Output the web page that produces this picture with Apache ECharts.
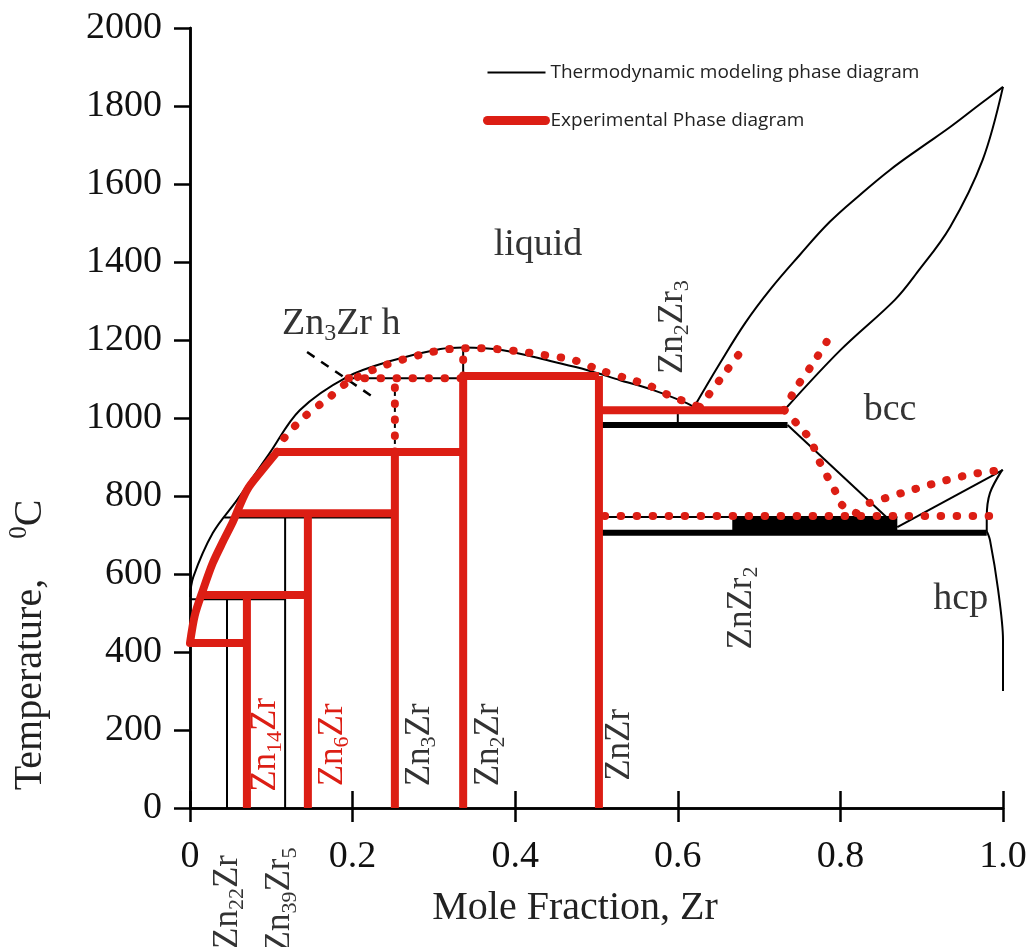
<!DOCTYPE html>
<html>
<head>
<meta charset="utf-8">
<script src="https://cdn.jsdelivr.net/npm/echarts@6/dist/echarts.min.js"></script>
<style>
  html, body { margin: 0; padding: 0; background: #fff; }
  #chart { width: 1030px; height: 947px; }
</style>
</head>
<body>
<div id="chart"></div>
<script>
  // axis ticks
  var xTickLabels = ['0', '0.2', '0.4', '0.6', '0.8', '1.0'];

  // thermodynamic model (black)
  var calcLiquidus = [[0, 541], [0.004, 592], [0.028, 705], [0.058, 790], [0.098, 910], [0.135, 1020], [0.193, 1105],
    [0.25, 1148], [0.308, 1177], [0.336, 1181], [0.385, 1174], [0.447, 1144], [0.488, 1123], [0.529, 1097],
    [0.569, 1072], [0.611, 1038], [0.622, 1025]];
  var calcLiquidusBcc = [[0.620, 1028], [0.652, 1141], [0.683, 1244], [0.713, 1328], [0.750, 1418], [0.787, 1503],
    [0.824, 1572], [0.861, 1636], [0.898, 1692], [0.935, 1746], [0.972, 1805], [1.0, 1849]];
  var calcSolidusBcc = [[0.733, 1025], [0.80, 1174], [0.867, 1303], [0.894, 1372], [0.935, 1490], [0.975, 1662], [1.0, 1849]];
  var calcBccLeft = [[0.735, 982], [0.87, 720]];
  var calcBccRight = [[0.87, 720], [1.0, 867]];
  var calcHcpUpper = [[0.98, 710], [0.98, 746], [0.984, 808], [0.999, 867]];
  var calcHcpSolvus = [[0.98, 710], [0.984, 687], [0.994, 559], [1.0, 431], [1.0, 300]];
  var calcTieLines = [
    [[0.19, 1102], [0.503, 1102]],
    [[0.042, 745], [0.252, 745]],
    [[0, 535], [0.117, 535]],
    [[0.503, 746], [0.87, 746]],
    [[0.336, 1102], [0.336, 1181]],
    [[0.6, 982], [0.6, 1020]],
    [[0.0455, 0], [0.0455, 535]],
    [[0.117, 0], [0.117, 745]]
  ];
  var calcThickLines = [
    [[0.503, 982], [0.735, 982]],
    [[0.503, 706], [0.98, 706]]
  ];
  var calcBand = [[0.667, 726], [0.87, 726]];
  var calcZn3ZrH = [[0.252, 913], [0.252, 1102]];

  // experimental diagram (red)
  var expLiquidus = [[0, 423], [0.006, 495], [0.016, 559], [0.028, 628], [0.041, 685], [0.053, 735], [0.070, 815],
    [0.089, 867], [0.107, 913]];
  var expLines = [
    [[0, 423], [0.07, 423]],
    [[0.07, 0], [0.07, 546]],
    [[0.012, 546], [0.148, 546]],
    [[0.145, 0], [0.145, 756]],
    [[0.054, 756], [0.252, 756]],
    [[0.252, 0], [0.252, 913]],
    [[0.107, 913], [0.336, 913]],
    [[0.336, 0], [0.336, 1108]],
    [[0.336, 1108], [0.503, 1108]],
    [[0.503, 0], [0.503, 1108]],
    [[0.503, 1020], [0.731, 1020]]
  ];
  var expDotLines = [
    [[0.107, 913], [0.111, 936], [0.139, 1000], [0.172, 1054], [0.193, 1090], [0.234, 1131], [0.283, 1162], [0.320, 1177],
      [0.357, 1179], [0.400, 1172], [0.434, 1162], [0.471, 1149], [0.504, 1123], [0.535, 1103], [0.566, 1082],
      [0.593, 1054], [0.611, 1041], [0.627, 1028]],
    [[0.195, 1102], [0.336, 1102]],
    [[0.252, 913], [0.252, 1102]],
    [[0.336, 1108], [0.336, 1179]],
    [[0.627, 1028], [0.636, 1054], [0.656, 1110], [0.677, 1169], [0.685, 1192]],
    [[0.731, 1020], [0.744, 1072], [0.765, 1136], [0.783, 1195]],
    [[0.731, 1020], [0.748, 982], [0.763, 944], [0.775, 885], [0.793, 815], [0.802, 777], [0.82, 756]],
    [[0.51, 749], [1.0, 749]],
    [[0.836, 782], [0.876, 808], [0.922, 836], [0.962, 856], [1.0, 867]]
  ];
  var pointerZn3ZrH = [[0.144, 1169], [0.225, 1054]];

  // phase labels [x, T, text, rotate, red]
  var phaseLabels = [
    [0.428, 1444, 'liquid', 0, false],
    [0.861, 1020, 'bcc', 0, false],
    [0.948, 536, 'hcp', 0, false],
    [0.186, 1241, '{a|Zn}{s|3}{a|Zr h}', 0, false],
    [0.594, 1233, '{a|Zn}{s|2}{a|Zr}{s|3}', 90, false],
    [0.679, 513, '{a|ZnZr}{s|2}', 90, false],
    [0.0935, 162, '{a|Zn}{s|14}{a|Zr}', 90, true],
    [0.176, 162, '{a|Zn}{s|6}{a|Zr}', 90, true],
    [0.283, 162, '{a|Zn}{s|3}{a|Zr}', 90, false],
    [0.367, 162, '{a|Zn}{s|2}{a|Zr}', 90, false],
    [0.529, 162, '{a|ZnZr}', 90, false],
    [0.0467, -241, '{a|Zn}{s|22}{a|Zr}', 90, false],
    [0.111, -236, '{a|Zn}{s|39}{a|Zr}{s|5}', 90, false]
  ];

  var MODEL = 'Thermodynamic modeling phase diagram';
  var EXP = 'Experimental Phase diagram';
  var RED = '#dc1e14';
  var SERIF = 'Liberation Serif, Times New Roman, serif';

  function seg(name, data, color, width, extra) {
    var s = {
      type: 'line', name: name, data: data, symbol: 'none', showSymbol: false, silent: true, clip: false, z: 2,
      lineStyle: {color: color, width: width, type: 'solid', cap: 'butt'}
    };
    extra = extra || {};
    if (extra.smooth) s.smooth = extra.smooth;
    if (extra.z) s.z = extra.z;
    if (extra.type) s.lineStyle.type = extra.type;
    if (extra.cap) s.lineStyle.cap = extra.cap;
    return s;
  }

  var series = [];
  series.push(seg(MODEL, calcLiquidus, '#000', 2, {smooth: 0.35}));
  series.push(seg(MODEL, calcLiquidusBcc, '#000', 2, {smooth: 0.4}));
  series.push(seg(MODEL, calcSolidusBcc, '#000', 2, {smooth: 0.35}));
  series.push(seg(MODEL, calcBccLeft, '#000', 2));
  series.push(seg(MODEL, calcBccRight, '#000', 2));
  series.push(seg(MODEL, calcHcpUpper, '#000', 2, {smooth: 0.3}));
  series.push(seg(MODEL, calcHcpSolvus, '#000', 2, {smooth: 0.3}));
  calcTieLines.forEach(function (d) { series.push(seg(MODEL, d, '#000', 2)); });
  calcThickLines.forEach(function (d) { series.push(seg(MODEL, d, '#000', 6)); });
  series.push(seg(MODEL, calcBand, '#000', 16));
  series.push(seg(MODEL, calcZn3ZrH, '#000', 2, {type: [4, 4]}));
  series.push(seg('pointer', pointerZn3ZrH, '#000', 2.5, {type: [9, 8]}));

  series.push(seg(EXP, expLiquidus, RED, 8, {smooth: 0.3, z: 3, cap: 'round'}));
  expLines.forEach(function (d) { series.push(seg(EXP, d, RED, 8, {z: 3})); });
  expDotLines.forEach(function (d) {
    series.push(seg(EXP, d, RED, 8, {z: 4, type: [0.5, 15.5], cap: 'round', smooth: d.length > 2 ? 0.3 : false}));
  });

  var axisLine = {lineStyle: {color: '#000', width: 2.5}};
  var option = {
    animation: false,
    grid: {left: 190, right: 27, top: 28, bottom: 139},
    legend: {
      orient: 'vertical', left: 483, top: 63, padding: 0, itemWidth: 58, itemHeight: 20, itemGap: 29,
      selectedMode: false,
      textStyle: {fontFamily: 'Open Sans', fontSize: 19, color: '#222'},
      data: [
        {name: MODEL, itemStyle: {opacity: 0}, lineStyle: {width: 2, color: '#000'}},
        {name: EXP, itemStyle: {opacity: 0}, lineStyle: {width: 9, color: RED, cap: 'round', type: 'solid'}}
      ]
    },
    xAxis: [
      {
        type: 'value', min: 0, max: 1, interval: 0.2, position: 'bottom',
        axisLine: axisLine, splitLine: {show: false},
        axisTick: {length: 14, lineStyle: {color: '#000', width: 2.5}},
        axisLabel: {
          margin: 30, fontFamily: SERIF, fontSize: 38, color: '#111',
          formatter: function (v) { return xTickLabels[Math.round(v / 0.2)]; }
        }
      },
      {
        type: 'value', min: 0, max: 1, interval: 0.2, position: 'top',
        axisLine: axisLine, splitLine: {show: false},
        axisTick: {length: 17, lineStyle: {color: '#000', width: 2.5}},
        axisLabel: {show: false}
      }
    ],
    yAxis: [
      {
        type: 'value', min: 0, max: 2000, interval: 200,
        axisLine: axisLine, splitLine: {show: false},
        axisTick: {length: 16, lineStyle: {color: '#000', width: 2.5}},
        axisLabel: {
          margin: 28, fontFamily: SERIF, fontSize: 38, color: '#111',
          formatter: function (v) { return String(v); }
        }
      },
      {
        type: 'value', min: 0, max: 2000, interval: 200, position: 'right',
        axisLine: axisLine, splitLine: {show: false},
        axisTick: {inside: true, length: 16, lineStyle: {color: '#000', width: 2.5}},
        axisLabel: {show: false}
      }
    ],
    series: series
  };

  var chart = echarts.init(document.getElementById('chart'), null, {renderer: 'canvas'});
  chart.setOption(option);

  function rich(size, color) {
    return {
      a: {fontSize: size, fontFamily: SERIF, fill: color, lineHeight: size + 6},
      s: {fontSize: Math.round(size * 0.62), fontFamily: SERIF, fill: color, lineHeight: 20, verticalAlign: 'bottom'},
      p: {fontSize: Math.round(size * 0.62), fontFamily: SERIF, fill: color, lineHeight: 20, verticalAlign: 'top'}
    };
  }

  var graphics = phaseLabels.map(function (l) {
    var p = chart.convertToPixel({gridIndex: 0}, [l[0], l[1]]);
    var color = l[4] ? RED : '#333';
    var size = l[3] ? 35 : 38;
    var text = l[2].indexOf('{') === 0 ? l[2] : '{a|' + l[2] + '}';
    return {
      type: 'text', x: p[0], y: p[1], rotation: l[3] * Math.PI / 180, z: 10, silent: true,
      style: {text: text, rich: rich(size, color), align: 'center', verticalAlign: 'middle', fill: color}
    };
  });
  graphics.push({
    type: 'text', x: 575, y: 908, z: 10, silent: true,
    style: {text: 'Mole Fraction, Zr', fontFamily: SERIF, fontSize: 40, fill: '#222', align: 'center', verticalAlign: 'middle'}
  });
  graphics.push({
    type: 'text', x: 30, y: 645, rotation: Math.PI / 2, z: 10, silent: true,
    style: {text: '{a|Temperature,    }{p|0}{a|C}', rich: rich(40, '#222'), align: 'center', verticalAlign: 'middle'}
  });
  chart.setOption({graphic: graphics});
</script>
</body>
</html>
